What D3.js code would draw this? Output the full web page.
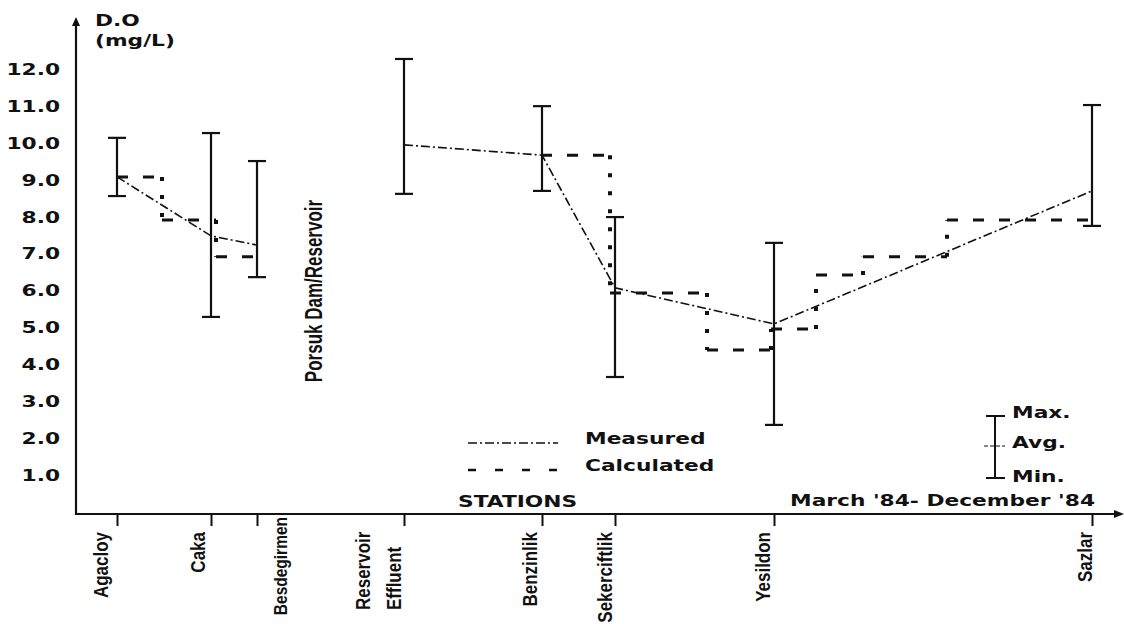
<!DOCTYPE html>
<meta charset="utf-8">
<style>

    body {
        margin: 0;
        background: #fff;
    }

    text {
        fill: #111;
    }

    .bold {
        font-family: "DejaVu Sans", sans-serif;
        font-weight: bold;
        font-size: 15px;
    }

    .narrow {
        font-family: "Liberation Sans", Arial, sans-serif;
        font-weight: bold;
        font-size: 17px;
    }

</style>
<body>
<script src="https://cdn.jsdelivr.net/npm/d3@7/dist/d3.min.js"></script>
<script>

    // stations along the river, distance in arbitrary plot units
    var stations = ["Agacloy", "Caka", "Besdegirmen", "Reservoir Effluent", "Benzinlik", "Sekerciftlik", "Yesildon", "Sazlar"];
    var stationDist = [4.1, 13.5, 18.1, 32.8, 46.6, 53.9, 69.8, 101.6];

    // D.O (mg/L) measured, March '84 - December '84
    var doMax = [10.14, 10.27, 9.51, 12.28, 11.0, 7.99, 7.29, 11.03];
    var doAvg = [9.08, 7.48, 7.23, 9.95, 9.67, 6.07, 5.09, 8.70];
    var doMin = [8.56, 5.28, 6.36, 8.62, 8.70, 3.65, 2.35, 7.75];

    // measured line is broken at the dam
    var measuredRuns = [[0, 1, 2], [3, 4, 5, 6, 7]];

    // calculated profile, step points [distance, D.O]
    var calcUpstream = [[4.1, 9.08], [8.6, 7.91], [14.0, 6.91], [18.1, 6.91]];
    var calcDownstream = [[46.5, 9.67], [53.4, 5.93], [63.1, 4.38], [69.5, 4.95], [74.0, 6.42],
        [78.7, 6.91], [87.1, 7.91], [101.5, 7.91]];

    var yTicks = [1, 2, 3, 4, 5, 6, 7, 8, 9, 10, 11, 12];

    var width = 1124;
    var height = 624;
    var WIDE = 1.45;      // the old plotter font is very extended
    var TALL = 1.2;       // and the station font is condensed
    var AXIS_Y = 514;

    var svg = d3.select("body").append("svg")
        .attr("width", width)
        .attr("height", height);

    var x = d3.scaleLinear().domain([0, 104.6]).range([76, 1122]);
    var y = d3.scaleLinear().domain([0, 12]).range([511.5, 69.3]);

    function boldText(str, tx, ty, anchor) {
        return svg.append("text")
            .attr("class", "bold")
            .attr("text-anchor", anchor || "start")
            .attr("transform", "translate(" + tx + "," + ty + ") scale(" + WIDE + ",1)")
            .text(str);
    }

    function upText(str, tx, ty, anchor, stretch) {
        return svg.append("text")
            .attr("class", "narrow")
            .attr("text-anchor", anchor)
            .attr("transform", "translate(" + tx + "," + ty + ") rotate(-90) scale(1," + (stretch || TALL) + ")")
            .text(str);
    }

    /////////////////////////////////
    // AXES
    /////////////////////////////////

    var yAxis = svg.append("g")
        .attr("transform", "translate(76,0)")
        .call(d3.axisLeft(y).tickValues(yTicks).tickSize(0).tickPadding(11).tickFormat(d3.format(".1f")));
    yAxis.select(".domain").remove();
    yAxis.attr("font-family", null).attr("font-size", null);
    yAxis.selectAll("text")
        .attr("class", "bold")
        .attr("fill", null)
        .attr("dy", "0.36em")
        .attr("transform", "scale(" + WIDE + ",1)");

    var xAxis = svg.append("g")
        .attr("transform", "translate(0," + AXIS_Y + ")")
        .call(d3.axisBottom(x).tickValues(stationDist).tickSize(12).tickFormat(""));
    xAxis.select(".domain").remove();
    xAxis.selectAll("line").attr("stroke", "#111").attr("stroke-width", 2);

    svg.append("line")
        .attr("x1", 76).attr("x2", 76).attr("y1", AXIS_Y + 1).attr("y2", 22)
        .attr("stroke", "#111").attr("stroke-width", 2.2);
    svg.append("path")
        .attr("d", "M76,17L72,26L80,26Z")
        .attr("fill", "#111");
    svg.append("line")
        .attr("x1", 75).attr("x2", 1116).attr("y1", AXIS_Y).attr("y2", AXIS_Y)
        .attr("stroke", "#111").attr("stroke-width", 2.2);
    svg.append("path")
        .attr("d", "M1124,514L1114,510L1114,518Z")
        .attr("fill", "#111");

    boldText("D.O", 95, 26);
    boldText("(mg/L)", 95, 46);

    /////////////////////////////////
    // STATION LABELS
    /////////////////////////////////

    var labelDx = [-9, -6, 30, 0, -5, -3, -4, 0];
    stations.forEach(function (name, i) {
        var px = x(stationDist[i]);
        if (name === "Reservoir Effluent") {
            upText("Reservoir", px - 34, 610, "start");
            upText("Effluent", px - 3, 610, "start");
        } else if (name === "Besdegirmen") {
            // long name squeezed against the axis, as on the original sheet
            upText(name, px + labelDx[i], 517, "end").style("font-size", "15.5px");
        } else {
            upText(name, px + labelDx[i], 532, "end");
        }
    });

    upText("Porsuk Dam/Reservoir", 322, 291, "middle", 1.4);

    /////////////////////////////////
    // ERROR BARS
    /////////////////////////////////

    var CAP = 9;
    var bars = svg.append("g")
        .attr("stroke", "#111")
        .attr("stroke-width", 2.2)
        .selectAll("g")
        .data(stations.map(function (s, i) { return i; }))
        .enter().append("g");

    bars.append("line")
        .attr("x1", function (i) { return x(stationDist[i]); })
        .attr("x2", function (i) { return x(stationDist[i]); })
        .attr("y1", function (i) { return y(doMin[i]); })
        .attr("y2", function (i) { return y(doMax[i]); });
    bars.append("line")
        .attr("x1", function (i) { return x(stationDist[i]) - CAP; })
        .attr("x2", function (i) { return x(stationDist[i]) + CAP; })
        .attr("y1", function (i) { return y(doMax[i]); })
        .attr("y2", function (i) { return y(doMax[i]); });
    bars.append("line")
        .attr("x1", function (i) { return x(stationDist[i]) - CAP; })
        .attr("x2", function (i) { return x(stationDist[i]) + CAP; })
        .attr("y1", function (i) { return y(doMin[i]); })
        .attr("y2", function (i) { return y(doMin[i]); });

    /////////////////////////////////
    // MEASURED LINE
    /////////////////////////////////

    var MEASURED_DASH = "9,3,2,3";
    var measuredLine = d3.line()
        .x(function (i) { return x(stationDist[i]); })
        .y(function (i) { return y(doAvg[i]); });

    svg.selectAll("path.measured")
        .data(measuredRuns)
        .enter().append("path")
        .attr("class", "measured")
        .attr("d", measuredLine)
        .attr("fill", "none")
        .attr("stroke", "#111")
        .attr("stroke-width", 1.6)
        .attr("stroke-dasharray", MEASURED_DASH);

    /////////////////////////////////
    // CALCULATED STEPS
    /////////////////////////////////

    var CALC_DASH = "11,15";
    var flats = [];
    var drops = [];
    [calcUpstream, calcDownstream].forEach(function (pts) {
        for (var k = 0; k < pts.length - 1; k++) {
            flats.push([pts[k], [pts[k + 1][0], pts[k][1]]]);
            if (pts[k + 1][1] !== pts[k][1]) {
                drops.push([[pts[k + 1][0], pts[k][1]], pts[k + 1]]);
            }
        }
    });

    var seg = d3.line()
        .x(function (p) { return x(p[0]); })
        .y(function (p) { return y(p[1]); });

    svg.selectAll("path.flat")
        .data(flats)
        .enter().append("path")
        .attr("class", "flat")
        .attr("d", seg)
        .attr("stroke", "#111")
        .attr("stroke-width", 3)
        .attr("stroke-dasharray", CALC_DASH);

    svg.selectAll("path.drop")
        .data(drops)
        .enter().append("path")
        .attr("class", "drop")
        .attr("d", seg)
        .attr("stroke", "#111")
        .attr("stroke-width", 4)
        .attr("stroke-dasharray", "4,14");

    /////////////////////////////////
    // LEGENDS
    /////////////////////////////////

    svg.append("line")
        .attr("x1", 468).attr("x2", 558).attr("y1", 443).attr("y2", 443)
        .attr("stroke", "#111").attr("stroke-width", 1.6)
        .attr("stroke-dasharray", MEASURED_DASH);
    boldText("Measured", 585, 444);

    svg.append("line")
        .attr("x1", 468).attr("x2", 558).attr("y1", 470).attr("y2", 470)
        .attr("stroke", "#111").attr("stroke-width", 2.5)
        .attr("stroke-dasharray", "8,19");
    boldText("Calculated", 585, 471);

    boldText("STATIONS", 458, 507);
    boldText("March '84- December '84", 790, 506);

    var key = svg.append("g").attr("stroke", "#111").attr("stroke-width", 2);
    key.append("line").attr("x1", 995).attr("x2", 995).attr("y1", 416).attr("y2", 478);
    key.append("line").attr("x1", 986).attr("x2", 1005).attr("y1", 416).attr("y2", 416);
    key.append("line").attr("x1", 986).attr("x2", 1005).attr("y1", 478).attr("y2", 478);
    key.append("line").attr("x1", 984).attr("x2", 1005).attr("y1", 446).attr("y2", 446)
        .attr("stroke-width", 1.2).attr("stroke-dasharray", "4,2");
    boldText("Max.", 1012, 418);
    boldText("Avg.", 1012, 448);
    boldText("Min.", 1012, 482);

</script>
</body>
</html>
